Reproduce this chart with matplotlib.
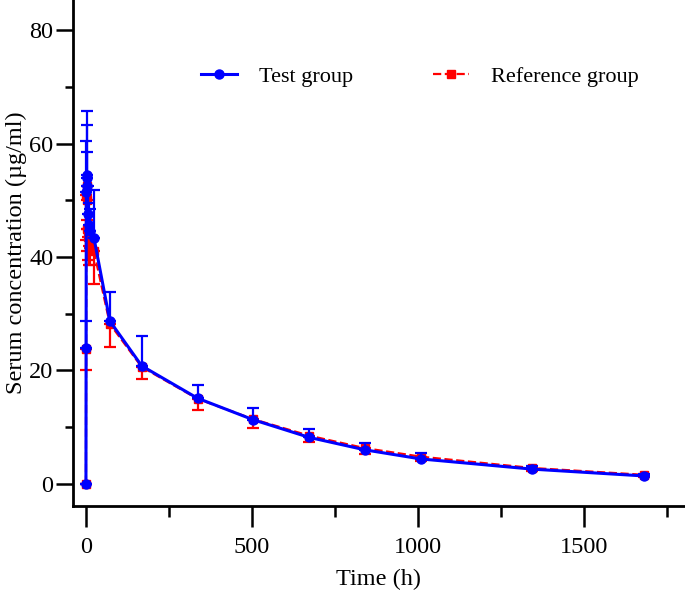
import numpy as np
from matplotlib import pyplot as plt
from matplotlib.lines import Line2D
from matplotlib.ticker import MultipleLocator

# Sampling times (h)
time_h = [0, 0.5, 1, 2, 3, 4, 6, 8, 12, 24, 72, 168, 336, 504, 672, 840, 1008, 1344, 1680]

# Test group mean / SD (ug/ml)
test_mean = [0, 24.0, 51.5, 54.5, 54.0, 52.5, 47.5, 45.6, 44.5, 43.4, 28.7, 20.8, 15.1, 11.3, 8.2, 6.0, 4.4, 2.6, 1.4]
test_sd = [0, 4.7, 9.0, 11.3, 9.3, 6.0, 5.0, 4.0, 4.0, 8.4, 5.1, 5.2, 2.3, 2.1, 1.5, 1.2, 1.0, 0.6, 0.4]

# Reference group mean / SD (ug/ml)
ref_mean = [0, 23.8, 51.0, 52.5, 50.0, 45.0, 43.5, 42.0, 41.5, 41.0, 28.2, 20.6, 15.0, 11.4, 8.5, 6.3, 4.8, 2.8, 1.6]
ref_sd = [0, 3.8, 8.0, 6.0, 5.0, 4.0, 4.0, 3.5, 3.0, 5.8, 4.0, 2.1, 1.9, 1.6, 1.2, 1.0, 0.8, 0.5, 0.3]

plt.rcParams['font.family'] = ['Liberation Serif', 'DejaVu Serif']
plt.rcParams['font.size'] = 17.5

fig = plt.figure(figsize=(6.85, 6.03), dpi=100)
ax = fig.add_axes([73 / 685, 97 / 603, 612 / 685, 506 / 603])

t = np.array(time_h)
zeros = np.zeros(len(t))

# Reference: lower error bars only
ax.errorbar(t, ref_mean, yerr=[ref_sd, zeros], color='red', ls='--', lw=1.6,
            marker='s', ms=6, capsize=4, elinewidth=1.6, capthick=1.6, zorder=2)
# Test: upper error bars only
ax.errorbar(t, test_mean, yerr=[zeros, test_sd], color='blue', ls='-', lw=2.2,
            marker='o', ms=6.5, capsize=4, elinewidth=1.6, capthick=1.6, zorder=3)

ax.set_xlim(-39, 1804)
ax.set_ylim(-3.9, 85.3)

ax.xaxis.set_major_locator(MultipleLocator(500))
ax.xaxis.set_minor_locator(MultipleLocator(250))
ax.yaxis.set_major_locator(MultipleLocator(20))
ax.yaxis.set_minor_locator(MultipleLocator(10))

ax.tick_params(axis='x', which='major', length=15, width=1.8, pad=7)
ax.tick_params(axis='x', which='minor', length=8, width=1.8)
ax.tick_params(axis='y', which='major', length=12, width=1.8, pad=2)
ax.tick_params(axis='y', which='minor', length=6, width=1.8)

for s in ['top', 'right']:
    ax.spines[s].set_visible(False)
for s in ['left', 'bottom']:
    ax.spines[s].set_linewidth(2.0)

ax.set_xlabel('Time (h)', labelpad=8)
ax.set_ylabel('Serum concentration (µg/ml)', labelpad=2)

h_test = Line2D([], [], color='blue', ls='-', lw=2.2, marker='o', ms=6.5)
h_ref = Line2D([], [], color='red', ls='--', lw=1.6, marker='s', ms=6)
ax.legend([h_test, h_ref], ['Test group', 'Reference group'], ncol=2, frameon=False,
          loc='center', bbox_to_anchor=(0.567, 0.848), columnspacing=3.6,
          handlelength=1.6, handletextpad=1.0, fontsize=16)

fig.savefig('out.png', dpi=100)
